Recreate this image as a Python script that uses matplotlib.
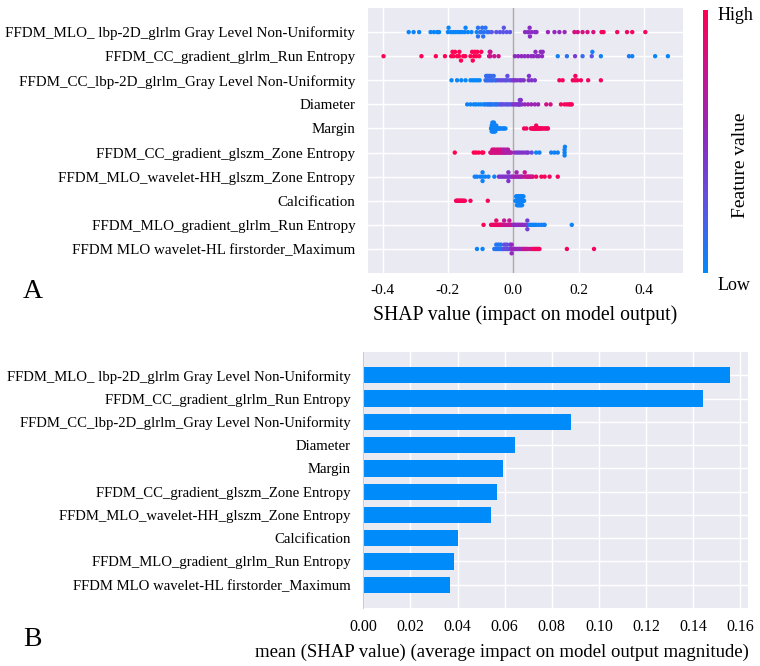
import numpy as np
import matplotlib
matplotlib.use("Agg")
import matplotlib.pyplot as plt
from matplotlib.colors import LinearSegmentedColormap
from matplotlib.cm import ScalarMappable

plt.rcParams['font.family'] = ['Liberation Serif', 'DejaVu Serif']
plt.rcParams['axes.unicode_minus'] = False

features = ['FFDM_MLO_ lbp-2D_glrlm Gray Level Non-Uniformity',
            'FFDM_CC_gradient_glrlm_Run Entropy',
            'FFDM_CC_lbp-2D_glrlm_Gray Level Non-Uniformity',
            'Diameter',
            'Margin',
            'FFDM_CC_gradient_glszm_Zone Entropy',
            'FFDM_MLO_wavelet-HH_glszm_Zone Entropy',
            'Calcification',
            'FFDM_MLO_gradient_glrlm_Run Entropy',
            'FFDM MLO wavelet-HL firstorder_Maximum']

# mean |SHAP| per feature (panel B)
mean_abs = [0.1555, 0.1442, 0.0881, 0.0644, 0.0595, 0.0569, 0.0542, 0.0404, 0.0383, 0.0366]

# SHAP values and feature values (0 = low, 1 = high) per feature, panel A
shap0 = [-0.320, -0.305, -0.288, -0.253, -0.243, -0.233, -0.227, -0.200, -0.198, -0.191,
         -0.184, -0.177, -0.170, -0.163, -0.156, -0.149, -0.146, -0.139, -0.128, -0.112,
         -0.108, -0.108, -0.101, -0.099, -0.095, -0.092, -0.090, -0.085, -0.080, -0.075,
         -0.066, -0.052, -0.041, -0.031, -0.029, -0.020, -0.010,
         0.036, 0.045, 0.046, 0.050, 0.051, 0.056, 0.066, 0.071,
         0.106, 0.126, 0.141, 0.157, 0.187, 0.197, 0.212, 0.227, 0.245,
         0.270, 0.276, 0.318, 0.348, 0.364, 0.404]
feat0 = [0.03] * 20 + [0.12] * 10 + [0.25] * 7 + [0.5] * 8 + [0.55] * 4 + [0.82] * 5 + [0.95] * 6

shap1 = [-0.397, -0.281, -0.237, -0.209, -0.190, -0.186, -0.183, -0.178, -0.172, -0.166,
         -0.165, -0.160, -0.153, -0.147, -0.131, -0.126, -0.124, -0.120, -0.118, -0.113,
         -0.110, -0.104, -0.098,
         -0.074, -0.072, -0.070, -0.070, -0.058, -0.045,
         0.005, 0.015, 0.025, 0.035, 0.045, 0.055, 0.062, 0.068, 0.072, 0.078, 0.084, 0.088, 0.090,
         0.136, 0.164, 0.189, 0.212, 0.240, 0.242, 0.268, 0.354, 0.364, 0.434, 0.473]
feat1 = [1.0] * 23 + [0.78] * 6 + [0.52] * 13 + [0.05, 0.12, 0.4, 0.15, 0.25, 0.05, 0.05, 0.1, 0.05, 0.02, 0.02]

shap2 = [-0.189, -0.172, -0.159, -0.146, -0.131, -0.124, -0.117, -0.110, -0.103,
         -0.085, -0.083, -0.081, -0.079, -0.076, -0.074, -0.071, -0.068, -0.066, -0.062,
         -0.060, -0.055, -0.052,
         -0.045, -0.038, -0.032, -0.025, -0.020, -0.018, -0.012, -0.006,
         0.000, 0.005, 0.012, 0.020, 0.025, 0.032, 0.047, 0.048, 0.056, 0.066,
         0.141, 0.151, 0.182, 0.189, 0.190, 0.196, 0.207, 0.229, 0.268]
feat2 = [0.02] * 9 + [0.15] * 13 + [0.3] * 8 + [0.45] * 10 + [0.95] * 9

shap3 = [-0.141, -0.131, -0.121, -0.114, -0.106, -0.098, -0.090, -0.086,
         -0.080, -0.076, -0.072, -0.068, -0.064, -0.058, -0.054, -0.050, -0.046,
         -0.040, -0.036, -0.032, -0.026, -0.020, -0.016, -0.010, -0.005,
         0.000, 0.005, 0.010, 0.014, 0.017, 0.019, 0.020, 0.021, 0.023, 0.026,
         0.035, 0.045, 0.055, 0.066, 0.076,
         0.101, 0.114,
         0.146, 0.157, 0.165, 0.171, 0.175, 0.179]
feat3 = [0.04] * 8 + [0.1] * 9 + [0.28] * 8 + [0.45] * 10 + [0.58] * 5 + [0.8] * 2 + [0.96] * 6

shap4 = [-0.068, -0.067, -0.066, -0.066, -0.065, -0.064, -0.064, -0.064, -0.063, -0.062,
         -0.062, -0.062, -0.061, -0.060, -0.060, -0.060, -0.059, -0.058, -0.058, -0.057,
         -0.056, -0.056, -0.055, -0.054, -0.053, -0.052, -0.050, -0.048, -0.046, -0.043,
         -0.040, -0.036, -0.032, -0.028, -0.024,
         0.033, 0.040, 0.054, 0.057, 0.060, 0.062, 0.064, 0.066, 0.067, 0.069,
         0.070, 0.072, 0.074, 0.076, 0.078, 0.080, 0.082, 0.085, 0.088, 0.092,
         0.096, 0.100, 0.104, 0.106]
feat4 = [0.04] * 35 + [0.95] * 24

shap5 = [-0.179, -0.121, -0.114, -0.106, -0.096, -0.092,
         -0.070, -0.068, -0.066, -0.064, -0.062, -0.060, -0.058, -0.056, -0.055, -0.052,
         -0.050, -0.048, -0.046, -0.045, -0.042, -0.040, -0.038, -0.036, -0.034, -0.032,
         -0.031, -0.028, -0.026, -0.025, -0.022, -0.020, -0.018, -0.016, -0.013, -0.010, -0.006,
         0.005, 0.012, 0.018, 0.025, 0.032, 0.040, 0.045,
         0.056,
         0.070, 0.080, 0.116, 0.126, 0.136, 0.157, 0.157, 0.157, 0.158]
feat5 = [1.0] * 6 + [0.82] * 20 + [0.65] * 11 + [0.45] * 7 + [0.3] + [0.05] * 9

shap6 = [-0.118, -0.111, -0.101, -0.094, -0.094, -0.094, -0.086, -0.076, -0.058,
         -0.044, -0.038, -0.032, -0.026, -0.020, -0.015, -0.015, -0.015, -0.010, -0.005,
         0.000, 0.005, 0.010, 0.010, 0.015, 0.020, 0.024, 0.028,
         0.035, 0.035, 0.040, 0.044, 0.048, 0.052, 0.056, 0.060,
         0.070, 0.086, 0.096, 0.111, 0.136]
feat6 = [0.05] * 9 + [0.45] * 10 + [0.6] * 8 + [0.78] * 8 + [0.96] * 5

shap7 = [-0.175, -0.172, -0.170, -0.168, -0.165, -0.163, -0.160, -0.158, -0.155, -0.152,
         -0.148, -0.131, -0.078,
         0.007, 0.008, 0.009, 0.010, 0.010, 0.011, 0.012, 0.012, 0.013, 0.014,
         0.014, 0.015, 0.016, 0.016, 0.017, 0.018, 0.018, 0.019, 0.020, 0.020,
         0.021, 0.022, 0.022, 0.023, 0.024, 0.024, 0.025, 0.026, 0.026, 0.027,
         0.028, 0.029, 0.030, 0.031, 0.033]
feat7 = [0.96] * 13 + [0.04] * 35

shap8 = [-0.091,
         -0.068, -0.064, -0.060, -0.057, -0.054, -0.052, -0.050, -0.048, -0.045, -0.042,
         -0.040, -0.038, -0.035, -0.032,
         -0.030, -0.028, -0.025, -0.020, -0.017, -0.014, -0.012, -0.010, -0.008, -0.005,
         0.000, 0.003, 0.006, 0.010, 0.014, 0.018, 0.022, 0.026, 0.030, 0.035, 0.040,
         0.043, 0.043, 0.043,
         0.050, 0.055, 0.060, 0.065, 0.070, 0.078, 0.086, 0.093, 0.096, 0.179]
feat8 = [1.0] + [0.92] * 14 + [0.75] * 10 + [0.52] * 11 + [0.38] * 3 + [0.05] * 10

shap9 = [-0.111, -0.094,
         -0.058, -0.055, -0.052, -0.050, -0.047, -0.045, -0.042, -0.040, -0.038, -0.035, -0.032,
         -0.030, -0.027, -0.025, -0.022, -0.020, -0.017, -0.015, -0.012, -0.010, -0.007,
         -0.005, -0.005, -0.005, 0.000, 0.003, 0.006, 0.010, 0.014, 0.018, 0.022, 0.026,
         0.030, 0.034, 0.038, 0.042, 0.048, 0.054,
         0.060, 0.064, 0.068, 0.072, 0.076, 0.080, 0.164, 0.247]
feat9 = [0.04] * 2 + [0.1] * 11 + [0.3] * 10 + [0.55] * 11 + [0.75] * 6 + [0.95] * 8

shap_rows = [shap0, shap1, shap2, shap3, shap4, shap5, shap6, shap7, shap8, shap9]
feat_rows = [feat0, feat1, feat2, feat3, feat4, feat5, feat6, feat7, feat8, feat9]

BG = '#eaeaf2'
BLUE = '#008bfb'
cmap = LinearSegmentedColormap.from_list('red_blue', ['#008bfb', '#5a55e6', '#8a2cc4', '#c41693', '#ff0052'])


def swarm(vals, row_height=0.4, nbins=100):
    # same stacking idea as shap's beeswarm
    vals = np.asarray(vals)
    quant = np.round(nbins * (vals - vals.min()) / (vals.max() - vals.min() + 1e-8))
    inds = np.argsort(quant, kind='stable')
    ys = np.zeros(len(vals))
    layer, last = 0, -1
    for i in inds:
        if quant[i] != last:
            layer = 0
        ys[i] = np.ceil(layer / 2) * ((layer % 2) * 2 - 1)
        layer += 1
        last = quant[i]
    ys *= 0.9 * (row_height / np.max(ys + 1))
    return ys


fig = plt.figure(figsize=(7.6, 6.66), dpi=100)
n = len(features)

# ---- panel A: beeswarm
ax1 = fig.add_axes([0.484, 0.590, 0.415, 0.398])
ax1.set_facecolor(BG)
for i, (sv, fv) in enumerate(zip(shap_rows, feat_rows)):
    pos = n - 1 - i
    ax1.axhline(pos, color='white', lw=1, zorder=0)
    ax1.scatter(sv, pos + swarm(sv), c=fv, cmap=cmap, vmin=0, vmax=1, s=10, linewidths=0, zorder=3)
for xv in [-0.4, -0.2, 0.2, 0.4]:
    ax1.axvline(xv, color='white', lw=1, zorder=0)
ax1.axvline(0, color='#aaaaaa', lw=1, zorder=1)
ax1.set_xlim(-0.445, 0.52)
ax1.set_ylim(-1, n)
ax1.set_xticks([-0.4, -0.2, 0.0, 0.2, 0.4])
ax1.set_xticklabels(['-0.4', '-0.2', '0.0', '0.2', '0.4'])
ax1.set_yticks(range(n - 1, -1, -1))
ax1.set_yticklabels(features)
ax1.tick_params(axis='x', length=0, labelsize=11, pad=8)
ax1.tick_params(axis='y', length=0, labelsize=10.8, pad=9)
for s in ax1.spines.values():
    s.set_visible(False)
ax1.set_xlabel('SHAP value (impact on model output)', fontsize=14.2, labelpad=6)

cax = fig.add_axes([0.925, 0.590, 0.0066, 0.395])
cb = fig.colorbar(ScalarMappable(cmap=cmap), cax=cax)
cb.outline.set_visible(False)
cb.set_ticks([])
fig.text(0.944, 0.976, 'High', fontsize=13, ha='left', va='center')
fig.text(0.944, 0.571, 'Low', fontsize=13, ha='left', va='center')
fig.text(0.974, 0.752, 'Feature value', fontsize=14, rotation=90, ha='center', va='center')

fig.text(0.03, 0.562, 'A', fontsize=20, ha='left', va='center')

# ---- panel B: mean |SHAP| bars
ax2 = fig.add_axes([0.478, 0.087, 0.506, 0.3845])
ax2.set_facecolor(BG)
ax2.set_axisbelow(True)
ax2.grid(True, color='white', lw=1)
ax2.barh(range(n - 1, -1, -1), mean_abs, height=0.7, color=BLUE)
ax2.set_xlim(0, 0.1632)
ax2.set_ylim(-1, n)
ax2.set_xticks(np.arange(0, 0.161, 0.02))
ax2.set_xticklabels(['0.00', '0.02', '0.04', '0.06', '0.08', '0.10', '0.12', '0.14', '0.16'])
ax2.set_yticks(range(n - 1, -1, -1))
ax2.set_yticklabels(features)
ax2.tick_params(axis='x', length=0, labelsize=11.5, pad=8)
ax2.tick_params(axis='y', length=0, labelsize=10.6, pad=9)
for k, s in ax2.spines.items():
    s.set_visible(False)
ax2.spines['left'].set_visible(True)
ax2.spines['left'].set_color('#cccccc')
fig.text(0.661, 0.021, 'mean (SHAP value) (average impact on model output magnitude)',
         fontsize=13.5, ha='center', va='center')
fig.text(0.03, 0.04, 'B', fontsize=20, ha='left', va='center')

fig.savefig('out.png', dpi=100)
